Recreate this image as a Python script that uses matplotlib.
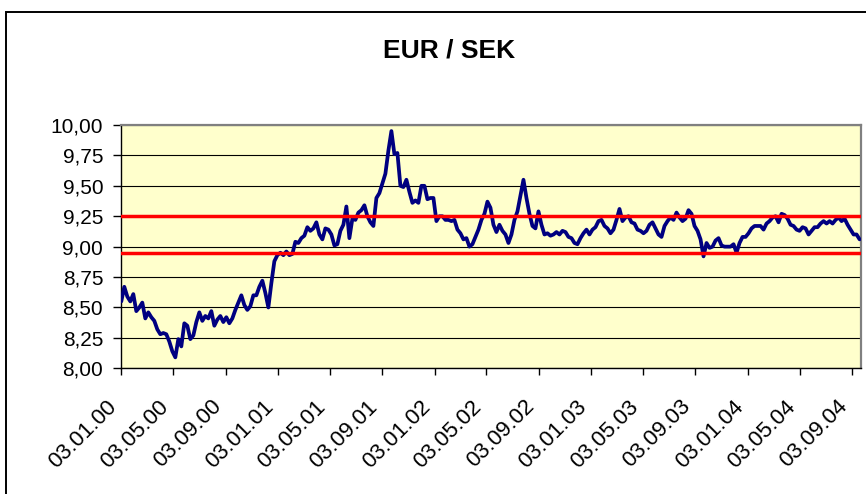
import matplotlib
matplotlib.use("Agg")
import matplotlib.pyplot as plt
import matplotlib.dates as mdates
from matplotlib.ticker import FixedLocator, FuncFormatter
from matplotlib.transforms import ScaledTranslation
from matplotlib.patches import Rectangle
import pandas as pd

plt.rcParams['font.family'] = ['Liberation Sans', 'DejaVu Sans']

title = "EUR / SEK"
start_date = "2000-01-03"
# weekly EUR/SEK values
values = [
    8.55, 8.67, 8.59, 8.55, 8.61, 8.47, 8.50, 8.54, 8.41, 8.46,
    8.42, 8.39, 8.32, 8.28, 8.29, 8.28, 8.22, 8.14, 8.09, 8.24,
    8.18, 8.37, 8.35, 8.24, 8.27, 8.38, 8.46, 8.39, 8.43, 8.41,
    8.47, 8.35, 8.40, 8.43, 8.38, 8.42, 8.37, 8.41, 8.48, 8.54,
    8.60, 8.52, 8.48, 8.51, 8.60, 8.60, 8.67, 8.72, 8.62, 8.50,
    8.70, 8.88, 8.93, 8.95, 8.93, 8.96, 8.93, 8.94, 9.04, 9.03,
    9.07, 9.09, 9.16, 9.13, 9.15, 9.20, 9.10, 9.06, 9.15, 9.14,
    9.10, 9.01, 9.02, 9.13, 9.18, 9.33, 9.07, 9.23, 9.22, 9.28,
    9.30, 9.34, 9.25, 9.20, 9.17, 9.40, 9.44, 9.52, 9.60, 9.79,
    9.95, 9.76, 9.77, 9.50, 9.49, 9.55, 9.45, 9.36, 9.38, 9.36,
    9.50, 9.50, 9.39, 9.40, 9.40, 9.21, 9.25, 9.25, 9.22, 9.22,
    9.21, 9.22, 9.14, 9.11, 9.06, 9.07, 9.00, 9.02, 9.08, 9.14,
    9.22, 9.27, 9.37, 9.32, 9.18, 9.12, 9.18, 9.13, 9.10, 9.03,
    9.10, 9.22, 9.29, 9.42, 9.55, 9.40, 9.27, 9.17, 9.15, 9.29,
    9.18, 9.10, 9.11, 9.09, 9.10, 9.12, 9.10, 9.13, 9.12, 9.08,
    9.07, 9.03, 9.02, 9.07, 9.11, 9.14, 9.10, 9.14, 9.16, 9.21,
    9.22, 9.17, 9.15, 9.11, 9.14, 9.22, 9.31, 9.21, 9.24, 9.25,
    9.20, 9.19, 9.14, 9.13, 9.11, 9.13, 9.18, 9.20, 9.15, 9.10,
    9.08, 9.17, 9.21, 9.24, 9.22, 9.28, 9.24, 9.21, 9.23, 9.30,
    9.27, 9.17, 9.13, 9.06, 8.92, 9.03, 8.99, 9.00, 9.05, 9.07,
    9.01, 9.00, 9.00, 9.00, 9.02, 8.95, 9.03, 9.08, 9.08, 9.11,
    9.15, 9.17, 9.17, 9.17, 9.14, 9.19, 9.21, 9.24, 9.25, 9.20,
    9.27, 9.26, 9.23, 9.18, 9.17, 9.14, 9.13, 9.16, 9.15, 9.10,
    9.13, 9.16, 9.16, 9.19, 9.21, 9.19, 9.21, 9.19, 9.22, 9.24,
    9.21, 9.23, 9.18, 9.14, 9.10, 9.10, 9.06,
]
band_levels = [9.25, 8.95]
y_ticks = [8.00, 8.25, 8.50, 8.75, 9.00, 9.25, 9.50, 9.75, 10.00]
x_tick_labels = ['03.01.00', '03.05.00', '03.09.00', '03.01.01', '03.05.01',
                 '03.09.01', '03.01.02', '03.05.02', '03.09.02', '03.01.03',
                 '03.05.03', '03.09.03', '03.01.04', '03.05.04', '03.09.04']

dates = pd.date_range(start_date, periods=len(values), freq='7D')
tick_dates = pd.to_datetime(x_tick_labels, format='%d.%m.%y')

W, H = 866, 494
fig = plt.figure(figsize=(W / 100, H / 100), dpi=100)
fig.patch.set_facecolor('white')

# outer chart frame
fig.patches.append(Rectangle((6 / W, -0.05), 1.1, 1 - 12 / H + 0.05,
                             transform=fig.transFigure, fill=False,
                             edgecolor='black', linewidth=1.4, zorder=0))

left, right = 121.3 / W, 861.3 / W
bottom, top = 1 - 368.3 / H, 1 - 125 / H
ax = fig.add_axes([left, bottom, right - left, top - bottom])
ax.set_facecolor('#FFFFCC')

ax.plot(dates, values, color='#000080', linewidth=2.7, zorder=3,
        solid_joinstyle='round', solid_capstyle='round')
for lvl in band_levels:
    ax.axhline(lvl, color='#FF0000', linewidth=2.5, zorder=4)

ax.set_ylim(y_ticks[0], y_ticks[-1])
ax.set_xlim(dates[0], dates[-1] + pd.Timedelta(days=4))

ax.yaxis.set_major_locator(FixedLocator(y_ticks))
ax.yaxis.set_major_formatter(FuncFormatter(lambda v, p: f"{v:.2f}".replace('.', ',')))
ax.yaxis.grid(True, color='black', linewidth=0.8, zorder=1)
ax.set_axisbelow(True)

ax.set_xticks(mdates.date2num(tick_dates))
ax.set_xticklabels(x_tick_labels)

ax.tick_params(axis='y', direction='out', length=6, width=1, pad=7,
               labelsize=15, colors='black')
ax.tick_params(axis='x', direction='out', length=5, width=1, pad=15,
               labelsize=16, colors='black')

offset = ScaledTranslation(-15 / 100, 0, fig.dpi_scale_trans)
for lab in ax.get_xticklabels():
    lab.set_rotation(45)
    lab.set_ha('right')
    lab.set_va('top')
    lab.set_rotation_mode('anchor')
    lab.set_transform(lab.get_transform() + offset)

for s in ['left', 'bottom']:
    ax.spines[s].set_color('black')
    ax.spines[s].set_linewidth(1.0)
for s in ['top', 'right']:
    ax.spines[s].set_color('#808080')
    ax.spines[s].set_linewidth(1.6)

fig.text(449 / W, 1 - 51 / H, title, ha='center', va='center',
         fontsize=19, fontweight='bold')

fig.savefig('out.png', dpi=100)
